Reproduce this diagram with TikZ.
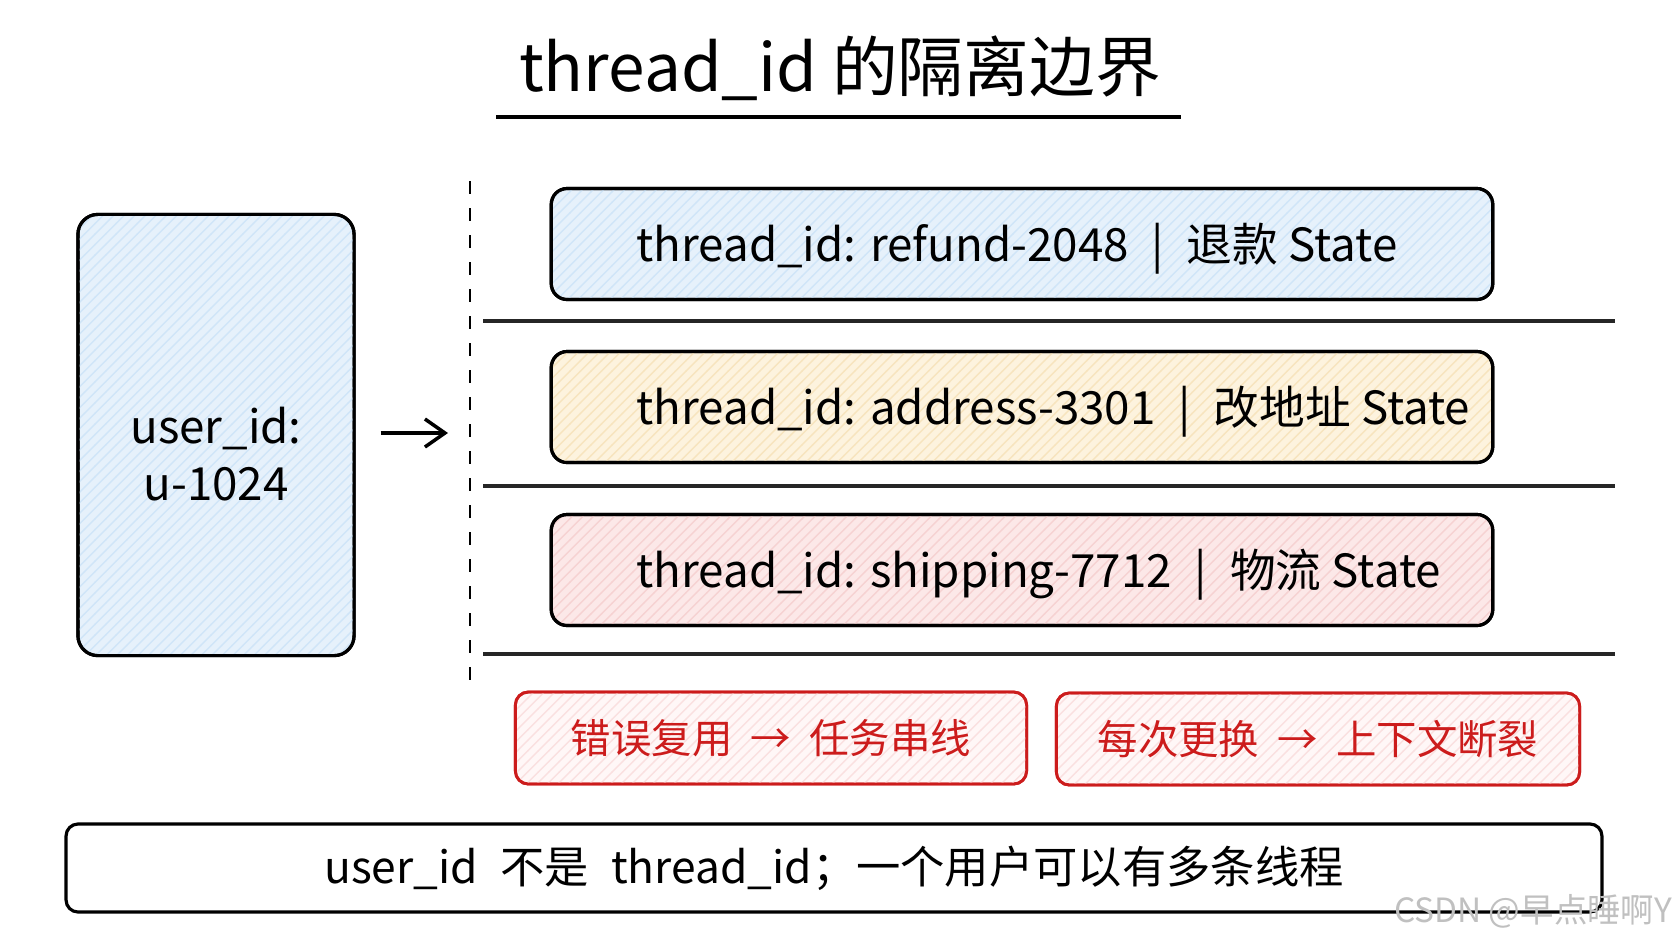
\documentclass[tikz,border=0pt]{standalone}
\usepackage{fontspec}
\setmainfont{Noto Sans CJK SC}
\usetikzlibrary{arrows.meta,positioning,patterns}
\definecolor{refundblue}{RGB}{230,241,251}
\definecolor{refundhatch}{RGB}{208,229,248}
\definecolor{addryellow}{RGB}{253,243,222}
\definecolor{addrhatch}{RGB}{247,228,190}
\definecolor{shippink}{RGB}{252,232,232}
\definecolor{shiphatch}{RGB}{246,210,210}
\definecolor{warnred}{RGB}{204,28,28}
\definecolor{warnfill}{RGB}{255,247,247}
\definecolor{warnhatch}{RGB}{250,224,224}
\definecolor{markgray}{RGB}{192,192,192}

\tikzset{
  edgebox/.style={draw=black,line width=0.9pt},
  hatched/.style 2 args={fill=#1,postaction={pattern=north east lines,pattern color=#2},
    postaction={draw=black,line width=0.9pt}},
  threadbox/.style={edgebox,rounded corners=0.16cm,minimum width=9.41cm,minimum height=1.11cm},
  threadlbl/.style={anchor=west,inner sep=0pt,font=\fontsize{13}{15}\selectfont},
  warnbox/.style={draw=warnred,line width=0.8pt,rounded corners=0.13cm,fill=warnfill,
    postaction={pattern=north east lines,pattern color=warnhatch},
    postaction={draw=warnred,line width=0.8pt},
    text=warnred,minimum height=0.92cm,font=\fontsize{11.5}{14}\selectfont},
  sepline/.style={line width=0.9pt,black!85},
}

\begin{document}
\begin{tikzpicture}[x=0.01cm,y=-0.01cm]
        \fill[white](0,0) rectangle (1672,941);
        \useasboundingbox (0,0) rectangle (1672,941);
        % title
        \node[font=\fontsize{18.7}{21}\selectfont] (title) at (840,68) {thread\_id 的隔离边界};
        \draw[line width=1pt](496,117)--(1181,117);
        % user
        \node[edgebox,rounded corners=0.2cm,minimum width=2.76cm,minimum height=4.41cm,
          hatched={refundblue}{refundhatch}] (user) at (216,435) {};
        \node[align=center,font=\fontsize{13}{16}\selectfont] (userlbl)
          at ([yshift=-0.19cm]user.center) {user\_id:\\u-1024};
        \coordinate (divtop) at (470,181);
        \coordinate (divbot) at (470,682);
        \draw[line width=0.8pt,dash pattern=on 0.13cm off 0.14cm](divtop)--(divbot);
        \coordinate (armend) at (448,433);
        \draw[line width=1pt,-{Straight Barb[length=0.2cm,width=0.28cm]}]
          ([xshift=0.25cm]user.east|-armend)--(armend);
        % threads
        \node[threadbox,hatched={refundblue}{refundhatch}] (refund) at (1022,244) {};
        \node[threadbox,hatched={addryellow}{addrhatch}] (address) at (1022,407) {};
        \node[threadbox,hatched={shippink}{shiphatch}] (shipping) at (1022,570) {};
        \node[threadlbl] (refundlbl) at ([xshift=0.86cm,yshift=-0.05cm]refund.west)
          {thread\_id: refund-2048\enspace|\enspace 退款 State};
        \node[threadlbl] (addresslbl) at ([xshift=0.86cm,yshift=-0.05cm]address.west)
          {thread\_id: address-3301\enspace|\enspace 改地址 State};
        \node[threadlbl] (shippinglbl) at ([xshift=0.86cm,yshift=-0.05cm]shipping.west)
          {thread\_id: shipping-7712\enspace|\enspace 物流 State};
        \foreach \yy in {321,486,654}
          \draw[sepline](483,\yy)--(1615,\yy);
        % warnings
        \node[warnbox,minimum width=5.11cm] (reuse) at (771,738)
          {错误复用\hspace{0.45em}→\hspace{0.45em}任务串线};
        \node[warnbox,minimum width=5.23cm] (swap) at (1318,739)
          {每次更换\hspace{0.45em}→\hspace{0.45em}上下文断裂};
        % bottom note
        \node[edgebox,rounded corners=0.12cm,minimum width=15.35cm,minimum height=0.88cm,fill=white,
          font=\fontsize{12.6}{15}\selectfont] (note) at (834,868)
          {user\_id\hspace{0.5em}不是\hspace{0.5em}thread\_id；一个用户可以有多条线程};
        \node[text=markgray,font=\fontsize{9.5}{11}\selectfont] (mark) at (1533,911) {CSDN @早点睡啊Y};
      \end{tikzpicture}
\end{document}
